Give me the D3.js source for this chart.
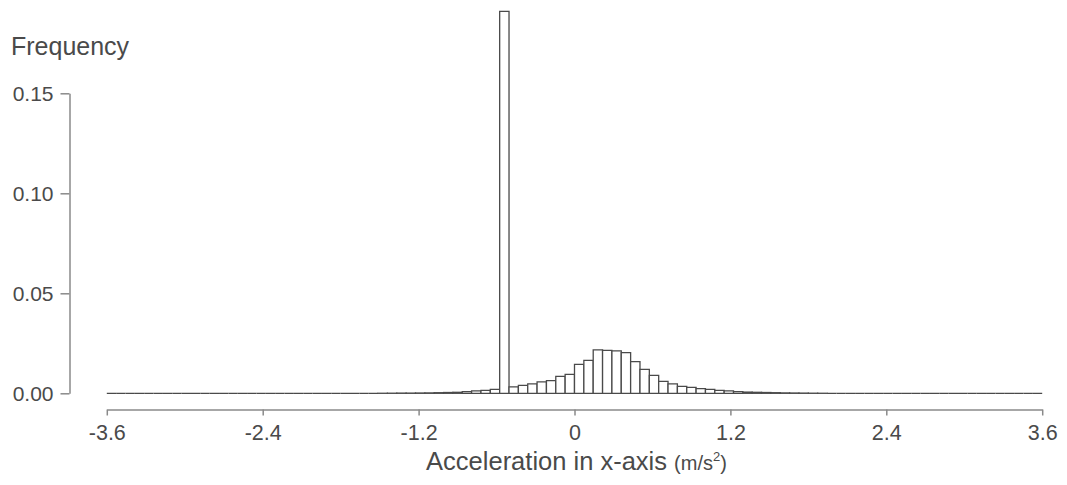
<!DOCTYPE html>
<html>
<head>
<meta charset="utf-8">
<script src="https://cdn.jsdelivr.net/npm/d3@7"></script>
<style>
  html, body { margin: 0; padding: 0; background: #fff; }
  svg { display: block; font-family: "Liberation Sans", Arial, Helvetica, sans-serif; }
</style>
</head>
<body>
<svg id="chart" width="1067" height="485"></svg>
<script>
// ---- data ----
const binStart = -3.6;
const binWidth = 0.072;
// frequency per bin (100 bins from -3.6 to 3.6)
const frequencies = [
  0, 0, 0, 0, 0, 0, 0, 0, 0, 0,
  0, 0, 0, 0, 0, 0, 0, 0, 0, 0,
  0, 0, 0, 0, 0, 0, 0, 0, 0, 0.00002,
  0.00005, 0.0001, 0.0001, 0.00015, 0.0002, 0.0003, 0.0004, 0.0005, 0.0008, 0.0012,
  0.0015, 0.002, 0.191, 0.0032, 0.004, 0.0047, 0.0057, 0.0063, 0.0085, 0.0095,
  0.0145, 0.0165, 0.0217, 0.0215, 0.0212, 0.0203, 0.0158, 0.012, 0.009, 0.006,
  0.0047, 0.0035, 0.003, 0.0023, 0.002, 0.0015, 0.0012, 0.0008, 0.0006, 0.0005,
  0.0004, 0.0003, 0.0002, 0.00015, 0.0001, 0.00005, 0.00002, 0, 0, 0,
  0, 0, 0, 0, 0, 0, 0, 0, 0, 0,
  0, 0, 0, 0, 0, 0, 0, 0, 0, 0
];
const xTicks = [-3.6, -2.4, -1.2, 0, 1.2, 2.4, 3.6];
const xTickLabels = ["-3.6", "-2.4", "-1.2", "0", "1.2", "2.4", "3.6"];
const yTicks = [0, 0.05, 0.10, 0.15];
const yTickLabels = ["0.00", "0.05", "0.10", "0.15"];
const yTitle = "Frequency";
const xTitleMain = "Acceleration in x-axis ";
const xTitleUnit = "(m/s";
const xTitleSup = "2";
const xTitleEnd = ")";

// ---- layout ----
const svg = d3.select("#chart");
const x = d3.scaleLinear().domain([-3.6, 3.6]).range([106.8, 1042.2]);
const y = d3.scaleLinear().domain([0, 0.15]).range([393.3, 93.3]);

const textColor = "#4a4a4a";
const axisColor = "#8a8a8a";

// bars
const bins = frequencies.map((v, i) => ({ x0: binStart + i * binWidth, x1: binStart + (i + 1) * binWidth, v }));
svg.append("g")
  .selectAll("path")
  .data(bins)
  .join("path")
  .attr("d", d => {
    const p = d3.path();
    p.moveTo(x(d.x0), y(0));
    p.lineTo(x(d.x0), y(d.v));
    p.lineTo(x(d.x1), y(d.v));
    p.lineTo(x(d.x1), y(0));
    p.closePath();
    return p.toString();
  })
  .attr("fill", "#fff")
  .attr("stroke", "#4a4a4a")
  .attr("stroke-width", 1.3)
  .attr("stroke-linejoin", "miter");

// y axis
const yAxis = svg.append("g")
  .attr("transform", "translate(69.5,0)")
  .call(d3.axisLeft(y).tickValues(yTicks).tickFormat((d, i) => yTickLabels[i]).tickSize(9).tickSizeOuter(0).tickPadding(7));
yAxis.select(".domain").attr("stroke", axisColor).attr("stroke-width", 1.5);
yAxis.selectAll(".tick line").attr("stroke", axisColor).attr("stroke-width", 1.5);
yAxis.selectAll(".tick text").attr("fill", textColor).style("font-size", "21px").style("font-family", "Liberation Sans, Arial, sans-serif");

// x axis
const xAxis = svg.append("g")
  .attr("transform", "translate(0,409.5)")
  .call(d3.axisBottom(x).tickValues(xTicks).tickFormat((d, i) => xTickLabels[i]).tickSize(6).tickSizeOuter(0).tickPadding(9));
xAxis.select(".domain").attr("stroke", axisColor).attr("stroke-width", 1.5);
xAxis.selectAll(".tick line").attr("stroke", axisColor).attr("stroke-width", 1.5);
xAxis.selectAll(".tick text").attr("fill", textColor).style("font-size", "21.5px").style("font-family", "Liberation Sans, Arial, sans-serif");

// y title
svg.append("text")
  .attr("x", 11)
  .attr("y", 55)
  .attr("fill", textColor)
  .style("font-size", "25px")
  .text(yTitle);

// x title
const xt = svg.append("text")
  .attr("x", x(0) + 2)
  .attr("y", 470)
  .attr("text-anchor", "middle")
  .attr("fill", textColor)
  .style("font-size", "25.5px");
xt.append("tspan").text(xTitleMain);
xt.append("tspan").style("font-size", "20px").text(xTitleUnit);
xt.append("tspan").style("font-size", "13px").attr("dy", -9).text(xTitleSup);
xt.append("tspan").style("font-size", "20px").attr("dy", 9).text(xTitleEnd);
</script>
</body>
</html>
